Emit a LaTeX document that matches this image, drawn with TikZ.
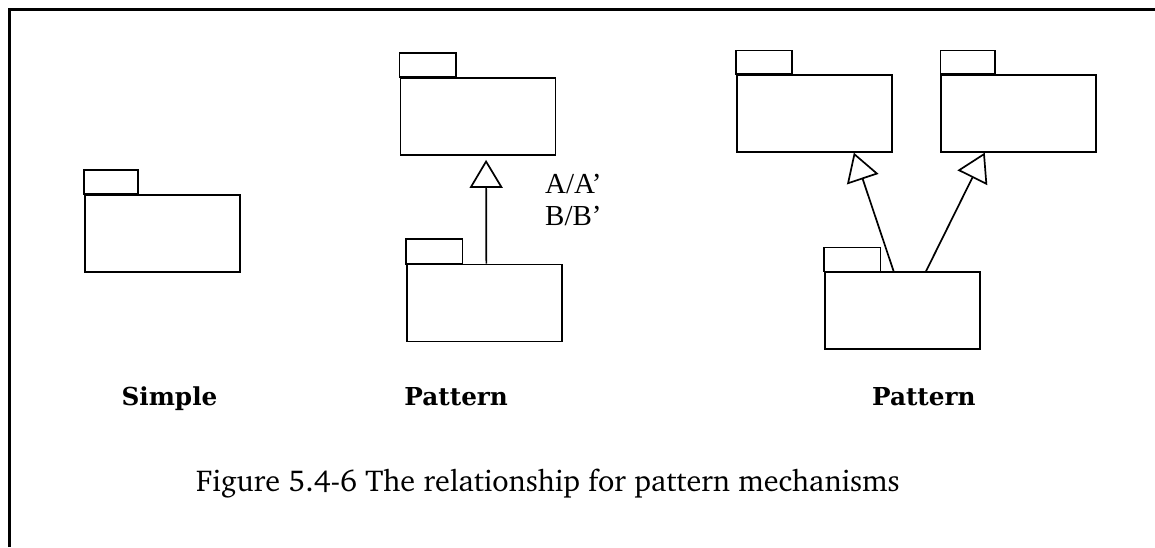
\documentclass[tikz,border=0pt]{standalone}
\usepackage[T1]{fontenc}
\usepackage{fontspec}
\setmainfont{Liberation Serif}
\newfontfamily\dvs{DejaVu Serif}
\newcommand\chfont{\fontencoding{T1}\fontfamily{bch}\selectfont}
\usetikzlibrary{arrows.meta}
\begin{document}
\begin{tikzpicture}[x=1pt,y=-1pt,
  pkg/.style={draw, line width=1.7pt, minimum width=155pt, minimum height=77pt, inner sep=0pt},
  pkgline/.style={line width=1.7pt},
  gen/.style={line width=1.7pt, -{Triangle[open, length=28pt, width=33pt]}},
  lab/.style={font=\dvs\bfseries\fontsize{24.7}{28}\selectfont, inner sep=0pt, anchor=base},
  captxt/.style={font=\chfont\fontsize{30.2}{34}\selectfont, inner sep=0pt, anchor=base},
  note/.style={font=\fontsize{29}{32}\selectfont, inner sep=0pt, anchor=base west}]
\useasboundingbox (0,0) rectangle (1155,547);
\draw[line width=3.2pt] (9.3,547) -- (9.3,9.5) -- (1155,9.5);
% simple
\node[pkg] (S) at (162.5,233.3) {};
\draw[pkgline] (S.north west) rectangle ++(54,-24);
% middle pattern
\node[pkg] (M1) at (477.9,116.5) {};
\draw[pkgline] (M1.north west) rectangle ++(56.6,-24.5);
\node[pkg] (M2) at (484.2,303) {};
\draw[pkgline] (M2.north west) rectangle ++(56.6,-24.6);
\draw[gen, shorten >=4pt] ([xshift=80.5pt]M2.north west) -- ([xshift=86.5pt]M1.south west);
\node[note] (t1) at (545,193.3) {A/A’};
\node[note] (t2) at (545,225) {B/B’};
% right pattern
\node[pkg] (R1) at (814.5,113.3) {};
\draw[pkgline] (R1.north west) rectangle ++(56,-23.6);
\node[pkg] (R2) at (1018.7,113.3) {};
\draw[pkgline] (R2.north west) rectangle ++(54.4,-23.6);
\node[pkg] (R3) at (902.3,310.7) {};
\draw[pkgline] (R3.north west) rectangle ++(56.4,-24);
\draw[gen] ([xshift=69.7pt]R3.north west) -- ([xshift=117.7pt]R1.south west);
\draw[gen] ([xshift=102pt]R3.north west) -- ([xshift=44.4pt]R2.south west);
% labels
\node[lab] (l1) at (169.5,405.7) {Simple};
\node[lab] (l2) at (456.2,405.7) {Pattern};
\node[lab] (l3) at (923.8,405.7) {Pattern};
\node[captxt] (c) at (548,491.7) {Figure 5.4-6 The relationship for pattern mechanisms};
\end{tikzpicture}
\end{document}
